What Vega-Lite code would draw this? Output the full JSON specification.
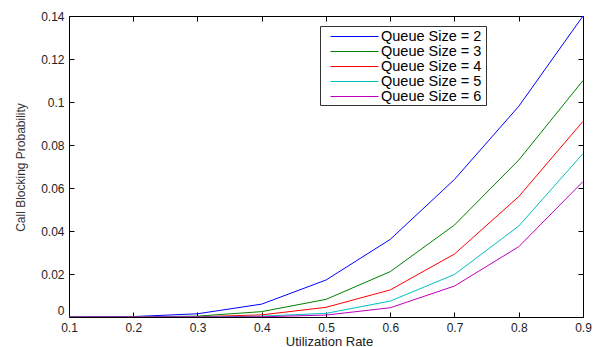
{
  "$schema": "https://vega.github.io/schema/vega-lite/v6.json",
  "autosize": {"type": "none"},
  "width": 514,
  "height": 301,
  "padding": {"left": 69, "top": 16, "right": 17, "bottom": 30},
  "background": "white",
  "config": {
    "view": {"stroke": "black", "strokeWidth": 1},
    "font": "Liberation Sans"
  },
  "data": {
    "values": [
      {"rate": 0.1, "p": 0, "series": "Queue Size = 2"},
      {"rate": 0.2, "p": 0.0002, "series": "Queue Size = 2"},
      {"rate": 0.3, "p": 0.0015, "series": "Queue Size = 2"},
      {"rate": 0.4, "p": 0.006, "series": "Queue Size = 2"},
      {"rate": 0.5, "p": 0.0172, "series": "Queue Size = 2"},
      {"rate": 0.6, "p": 0.0361, "series": "Queue Size = 2"},
      {"rate": 0.7, "p": 0.064, "series": "Queue Size = 2"},
      {"rate": 0.8, "p": 0.098, "series": "Queue Size = 2"},
      {"rate": 0.9, "p": 0.14, "series": "Queue Size = 2"},
      {"rate": 0.1, "p": 0, "series": "Queue Size = 3"},
      {"rate": 0.2, "p": 0.00003, "series": "Queue Size = 3"},
      {"rate": 0.3, "p": 0.0004, "series": "Queue Size = 3"},
      {"rate": 0.4, "p": 0.0025, "series": "Queue Size = 3"},
      {"rate": 0.5, "p": 0.0082, "series": "Queue Size = 3"},
      {"rate": 0.6, "p": 0.0211, "series": "Queue Size = 3"},
      {"rate": 0.7, "p": 0.0428, "series": "Queue Size = 3"},
      {"rate": 0.8, "p": 0.073, "series": "Queue Size = 3"},
      {"rate": 0.9, "p": 0.110, "series": "Queue Size = 3"},
      {"rate": 0.1, "p": 0, "series": "Queue Size = 4"},
      {"rate": 0.2, "p": 0, "series": "Queue Size = 4"},
      {"rate": 0.3, "p": 0.0001, "series": "Queue Size = 4"},
      {"rate": 0.4, "p": 0.001, "series": "Queue Size = 4"},
      {"rate": 0.5, "p": 0.0045, "series": "Queue Size = 4"},
      {"rate": 0.6, "p": 0.0126, "series": "Queue Size = 4"},
      {"rate": 0.7, "p": 0.0293, "series": "Queue Size = 4"},
      {"rate": 0.8, "p": 0.056, "series": "Queue Size = 4"},
      {"rate": 0.9, "p": 0.091, "series": "Queue Size = 4"},
      {"rate": 0.1, "p": 0, "series": "Queue Size = 5"},
      {"rate": 0.2, "p": 0, "series": "Queue Size = 5"},
      {"rate": 0.3, "p": 0, "series": "Queue Size = 5"},
      {"rate": 0.4, "p": 0.0004, "series": "Queue Size = 5"},
      {"rate": 0.5, "p": 0.0017, "series": "Queue Size = 5"},
      {"rate": 0.6, "p": 0.0074, "series": "Queue Size = 5"},
      {"rate": 0.7, "p": 0.0198, "series": "Queue Size = 5"},
      {"rate": 0.8, "p": 0.0423, "series": "Queue Size = 5"},
      {"rate": 0.9, "p": 0.076, "series": "Queue Size = 5"},
      {"rate": 0.1, "p": 0, "series": "Queue Size = 6"},
      {"rate": 0.2, "p": 0, "series": "Queue Size = 6"},
      {"rate": 0.3, "p": 0, "series": "Queue Size = 6"},
      {"rate": 0.4, "p": 0.0001, "series": "Queue Size = 6"},
      {"rate": 0.5, "p": 0.0009, "series": "Queue Size = 6"},
      {"rate": 0.6, "p": 0.0043, "series": "Queue Size = 6"},
      {"rate": 0.7, "p": 0.0144, "series": "Queue Size = 6"},
      {"rate": 0.8, "p": 0.0327, "series": "Queue Size = 6"},
      {"rate": 0.9, "p": 0.063, "series": "Queue Size = 6"}
    ]
  },
  "layer": [
    {
      "mark": {"type": "line", "strokeWidth": 1, "clip": true},
      "encoding": {
        "x": {
          "field": "rate", "type": "quantitative",
          "scale": {"domain": [0.1, 0.9], "nice": false, "zero": false},
          "axis": {
            "title": "Utilization Rate",
            "values": [0.1, 0.2, 0.3, 0.4, 0.5, 0.6, 0.7, 0.8, 0.9],
            "format": "~g",
            "grid": false, "domain": false,
            "tickSize": -5, "tickColor": "black",
            "labelPadding": 10, "labelFontSize": 12, "labelColor": "#222",
            "labelFlush": false,
            "titleFontSize": 13, "titleFontWeight": "normal", "titleColor": "#222",
            "titleX": 260, "titleY": 24, "titleBaseline": "middle", "titleAlign": "center"
          }
        },
        "y": {
          "field": "p", "type": "quantitative",
          "scale": {"domain": [0, 0.14], "nice": false},
          "axis": {
            "title": "Call Blocking Probability",
            "values": [0, 0.02, 0.04, 0.06, 0.08, 0.1, 0.12, 0.14],
            "format": "~g",
            "grid": false, "domain": false,
            "tickSize": -5, "tickColor": "black",
            "labelPadding": 10, "labelFontSize": 12, "labelColor": "#222",
            "labelFlush": false,
            "labelBaseline": {"condition": {"test": "datum.value === 0", "value": "bottom"}, "value": "middle"},
            "titleFontSize": 12, "titleFontWeight": "normal", "titleColor": "#333",
            "titleX": -49, "titleY": 151, "titleAngle": -90,
            "titleBaseline": "middle", "titleAlign": "center"
          }
        },
        "color": {
          "field": "series", "type": "nominal",
          "scale": {
            "domain": ["Queue Size = 2", "Queue Size = 3", "Queue Size = 4", "Queue Size = 5", "Queue Size = 6"],
            "range": ["#0000FF", "#008000", "#FF0000", "#00BFBF", "#BF00BF"]
          },
          "legend": {
            "title": "\u00a0",
            "titleOrient": "right",
            "titlePadding": 3,
            "titleFontSize": 14,
            "orient": "none",
            "legendX": 251,
            "legendY": 10,
            "symbolType": "M-1,0H5",
            "symbolSize": 256,
            "symbolStrokeWidth": 1,
            "symbolOffset": 8,
            "labelOffset": 34,
            "labelFontSize": 14.5,
            "labelColor": "black",
            "rowPadding": 0,
            "padding": 2,
            "strokeColor": "#333",
            "fillColor": "white"
          }
        }
      }
    },
    {
      "mark": {"type": "line", "strokeOpacity": 0},
      "encoding": {
        "x": {
          "field": "rate", "type": "quantitative",
          "axis": {
            "orient": "top", "title": null, "labels": false, "grid": false, "domain": false,
            "values": [0.1, 0.2, 0.3, 0.4, 0.5, 0.6, 0.7, 0.8, 0.9],
            "tickSize": -5, "tickColor": "black"
          }
        },
        "y": {
          "field": "p", "type": "quantitative",
          "axis": {
            "orient": "right", "title": null, "labels": false, "grid": false, "domain": false,
            "values": [0, 0.02, 0.04, 0.06, 0.08, 0.1, 0.12, 0.14],
            "tickSize": -5, "tickColor": "black"
          }
        },
        "detail": {"field": "series"}
      }
    }
  ],
  "resolve": {"axis": {"x": "independent", "y": "independent"}}
}
